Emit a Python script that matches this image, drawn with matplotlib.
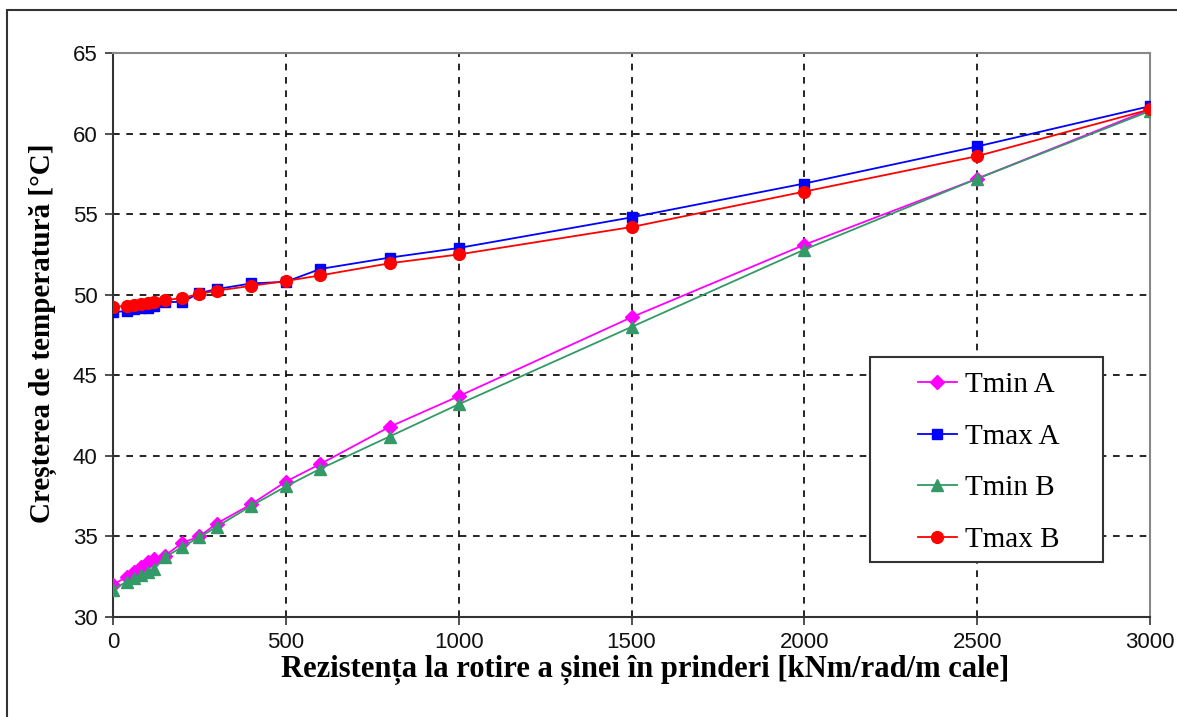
import numpy as np
import matplotlib.pyplot as plt
from matplotlib.patches import Rectangle

# rezistenta la rotire [kNm/rad/m cale]
x = [0, 40, 60, 80, 100, 120, 150, 200, 250, 300, 400, 500, 600, 800, 1000, 1500, 2000, 2500, 3000]

tmin_a = [32.0, 32.5, 32.8, 33.1, 33.4, 33.6, 33.8, 34.6, 35.0, 35.8, 37.0, 38.4, 39.5, 41.8, 43.7, 48.6, 53.1, 57.2, 61.5]
tmax_a = [48.9, 49.0, 49.1, 49.15, 49.2, 49.3, 49.55, 49.55, 50.1, 50.35, 50.7, 50.8, 51.6, 52.3, 52.9, 54.8, 56.9, 59.2, 61.7]
tmin_b = [31.7, 32.2, 32.4, 32.6, 32.8, 33.0, 33.7, 34.35, 34.95, 35.6, 36.9, 38.1, 39.2, 41.2, 43.2, 48.0, 52.8, 57.2, 61.4]
tmax_b = [49.25, 49.3, 49.35, 49.4, 49.5, 49.55, 49.65, 49.8, 50.05, 50.25, 50.55, 50.85, 51.2, 51.95, 52.5, 54.2, 56.4, 58.6, 61.5]

series = [
    ("Tmin A", tmin_a, "#FF00FF", "D", 7),
    ("Tmax A", tmax_a, "#0000FF", "s", 7.5),
    ("Tmin B", tmin_b, "#339966", "^", 8.5),
    ("Tmax B", tmax_b, "#FF0000", "o", 8.5),
]

serif = "Liberation Serif"
W, H = 1177, 717

fig = plt.figure(figsize=(W / 100, H / 100), dpi=100)
# chart area border (cut off at right / bottom in the screenshot)
fig.patches.append(Rectangle((7 / W, -0.01), 1.02, 1 - 10 / H + 0.01,
                             transform=fig.transFigure, fill=False,
                             edgecolor="#333333", linewidth=1.5))
ax = fig.add_axes([113 / W, 1 - 617 / H, 1037 / W, 564 / H])

for name, vals, col, mk, ms in series:
    ax.plot(x, vals, color=col, marker=mk, markersize=ms, linewidth=1.3,
            markeredgecolor=col, label=name, zorder=3)

ax.set_xlim(0, 3000)
ax.set_ylim(30, 65)
ax.set_xticks(np.arange(0, 3001, 500))
ax.set_yticks(np.arange(30, 66, 5))
ax.grid(True, linestyle=(0, (4, 4)), color="black", linewidth=1.2)
ax.tick_params(direction="out", length=6, width=1.2, color="#333333", pad=5)
for lab in ax.get_xticklabels() + ax.get_yticklabels():
    lab.set_fontfamily("Liberation Sans")
    lab.set_fontsize(16)
    lab.set_color("#111111")

for side in ("top", "right"):
    ax.spines[side].set_color("#888888")
    ax.spines[side].set_linewidth(1.5)
for side in ("left", "bottom"):
    ax.spines[side].set_color("#333333")
    ax.spines[side].set_linewidth(1.5)

ax.set_xlabel("Rezistența la rotire a șinei în prinderi [kNm/rad/m cale]",
              fontfamily=serif, fontweight="bold", fontsize=22)
ax.xaxis.set_label_coords((645 - 113) / 1037, -(655 - 617) / 564)
ax.set_ylabel("Creșterea de temperatură [°C]",
              fontfamily=serif, fontweight="bold", fontsize=21)
ax.yaxis.set_label_coords(-(113 - 57) / 1037, (617 - 333) / 564)

# legend box drawn separately so the padding can differ per side
ax.add_patch(Rectangle((870 / W, 1 - 562 / H), 233 / W, 205 / H,
                       transform=fig.transFigure, facecolor="white",
                       edgecolor="#333333", linewidth=1.5, zorder=4,
                       clip_on=False))
leg = ax.legend(loc="upper left", bbox_to_anchor=(918 / W, 1 - 372 / H),
                bbox_transform=fig.transFigure,
                prop={"family": serif, "size": 21}, frameon=False,
                borderpad=0, labelspacing=0.86, handlelength=1.32,
                handletextpad=0.3, borderaxespad=0)
leg.set_zorder(5)

fig.savefig("out.png", dpi=100)
